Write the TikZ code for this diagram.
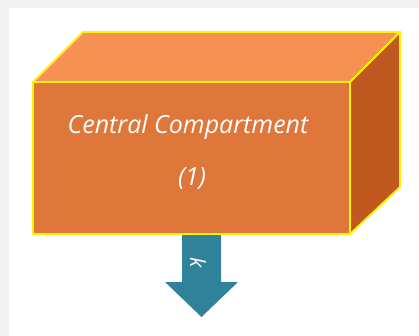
\documentclass[tikz,border=0pt]{standalone}
\usepackage{fontspec}
\setmainfont{Open Sans}
\definecolor{bggray}{HTML}{F0F1F3}
\definecolor{frontc}{HTML}{DF763A}
\definecolor{topc}{HTML}{F79153}
\definecolor{sidec}{HTML}{C0581F}
\definecolor{edgec}{HTML}{FFF200}
\definecolor{arrowc}{HTML}{2F8299}
\tikzset{
  face/.style={draw=edgec, line width=1.8pt, line join=round},
  lbl/.style={text=white, font=\itshape\fontsize{25}{29}\selectfont, inner sep=0pt}
}
\begin{document}
\begin{tikzpicture}[x=1pt,y=-1pt]
\useasboundingbox (0,0) rectangle (419,336);
\fill[bggray] (0,0) rectangle (419,336);
\fill[white] (9,8) rectangle (419,336);
% arrow
\fill[arrowc] (182,226) -- (221,226) -- (221,282) -- (238,282) -- (201.5,317) -- (165,282) -- (182,282) -- cycle;
\node[text=white, font=\itshape\fontsize{21}{25}\selectfont, rotate=-90, inner sep=0pt] (klab) at (198,263) {k};
% box
\coordinate (fa) at (33,82);
\coordinate (fb) at (350,82);
\coordinate (fc) at (350,234);
\coordinate (fd) at (33,234);
\coordinate (ba) at (83,32);
\coordinate (bb) at (400,32);
\coordinate (bc) at (400,187);
\path[face, fill=topc] (fa) -- (ba) -- (bb) -- (fb) -- cycle;
\path[face, fill=sidec] (fb) -- (bb) -- (bc) -- (fc) -- cycle;
\path[face, fill=frontc] (fa) -- (fb) -- (fc) -- (fd) -- cycle;
\node[lbl] (name) at (188,127) {Central Compartment};
\node[lbl] (num) at (192,179) {(1)};
\end{tikzpicture}
\end{document}
